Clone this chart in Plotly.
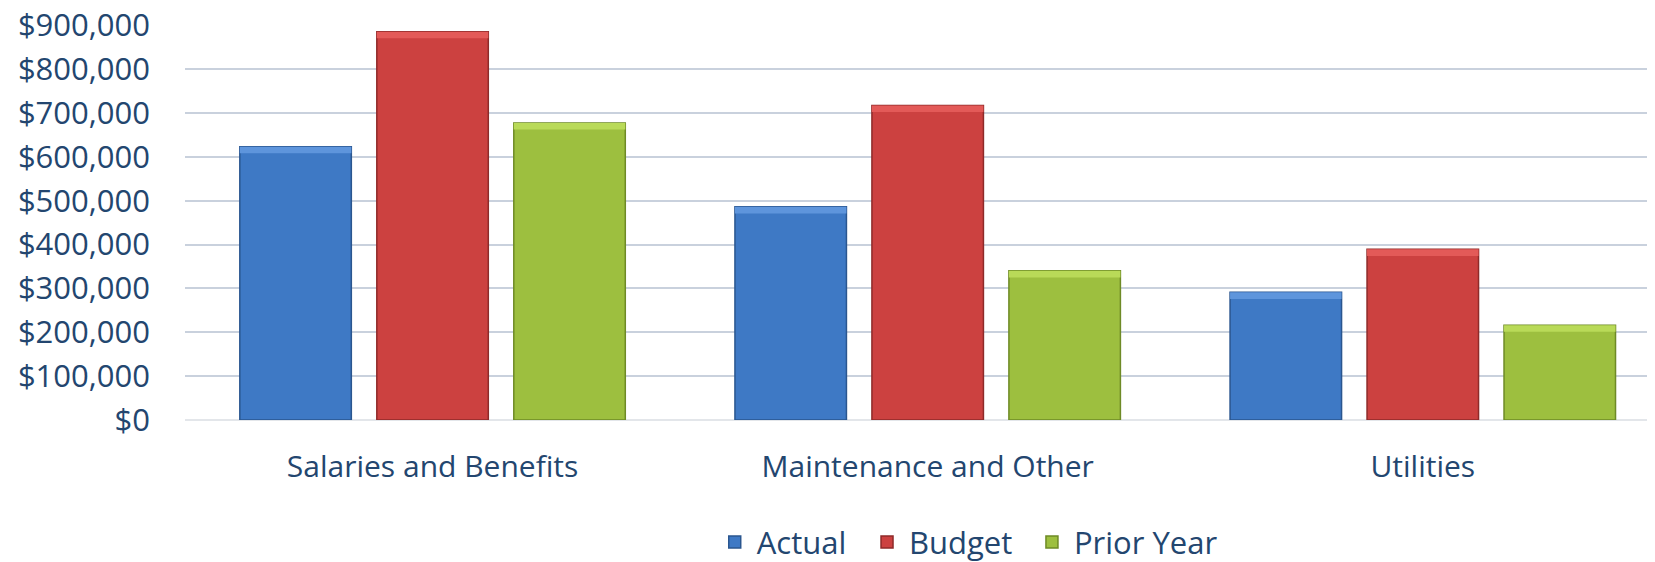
import plotly.graph_objects as go

categories = ["Salaries and Benefits", "Maintenance and Other", "Utilities"]
actual = [623000, 486000, 291000]
budget = [885000, 717000, 389000]
prior_year = [677000, 340000, 216000]
y_ticks = [0, 100000, 200000, 300000, 400000, 500000, 600000, 700000, 800000, 900000]
y_tick_labels = ["$0", "$100,000", "$200,000", "$300,000", "$400,000", "$500,000",
                 "$600,000", "$700,000", "$800,000", "$900,000"]

series = [
    ("Actual", actual, "#3E79C5", "#2A568F", "#5E95DC", "legend", 0.359),
    ("Budget", budget, "#CC4140", "#8E2A29", "#E35A58", "legend2", 0.4626),
    ("Prior Year", prior_year, "#9DBF3F", "#6E8A26", "#B9DA58", "legend3", 0.5748),
]

TEXT = "#23466F"
FONT = "Open Sans"
BEVEL = 15000  # height of the light top bevel, in data units

fig = go.Figure()
for name, vals, col, line, light, leg, lx in series:
    fig.add_trace(go.Bar(
        x=categories, y=vals, name=name, offsetgroup=name, legend=leg,
        marker=dict(color=col, line=dict(color=line, width=1.5)),
    ))
for name, vals, col, line, light, leg, lx in series:
    fig.add_trace(go.Bar(
        x=categories, y=[BEVEL] * len(vals), base=[v - BEVEL for v in vals],
        offsetgroup=name, showlegend=False, hoverinfo="skip",
        marker=dict(color=light, line=dict(width=0)),
    ))

legend_style = dict(orientation="h", xanchor="left", y=-0.31, yanchor="middle",
                    font=dict(size=31, color=TEXT), itemwidth=34,
                    bgcolor="rgba(0,0,0,0)")
legends = {}
for name, vals, col, line, light, leg, lx in series:
    legends[leg] = dict(legend_style, x=lx)

fig.update_layout(
    width=1647, height=554,
    barmode="group", bargap=0.17, bargroupgap=0.186,
    plot_bgcolor="white", paper_bgcolor="white",
    margin=dict(l=177, r=0, t=17, b=142, autoexpand=False),
    font=dict(family=FONT, size=30, color=TEXT),
    showlegend=True,
    **legends,
    xaxis=dict(range=[-0.5, 2.469], showgrid=False, showline=False, ticks="",
               automargin=False, ticklabelstandoff=26,
               tickfont=dict(size=30, color=TEXT)),
    yaxis=dict(range=[0, 900400], tickvals=y_ticks, ticktext=y_tick_labels,
               showgrid=True, gridcolor="#C9D1DD", gridwidth=2,
               zeroline=True, zerolinecolor="#E3E6EA", zerolinewidth=2,
               showline=False, ticks="", ticklabelstandoff=34, automargin=False,
               ticklabeloverflow="allow",
               tickfont=dict(size=31, color=TEXT)),
)

fig.write_html("out.html")
